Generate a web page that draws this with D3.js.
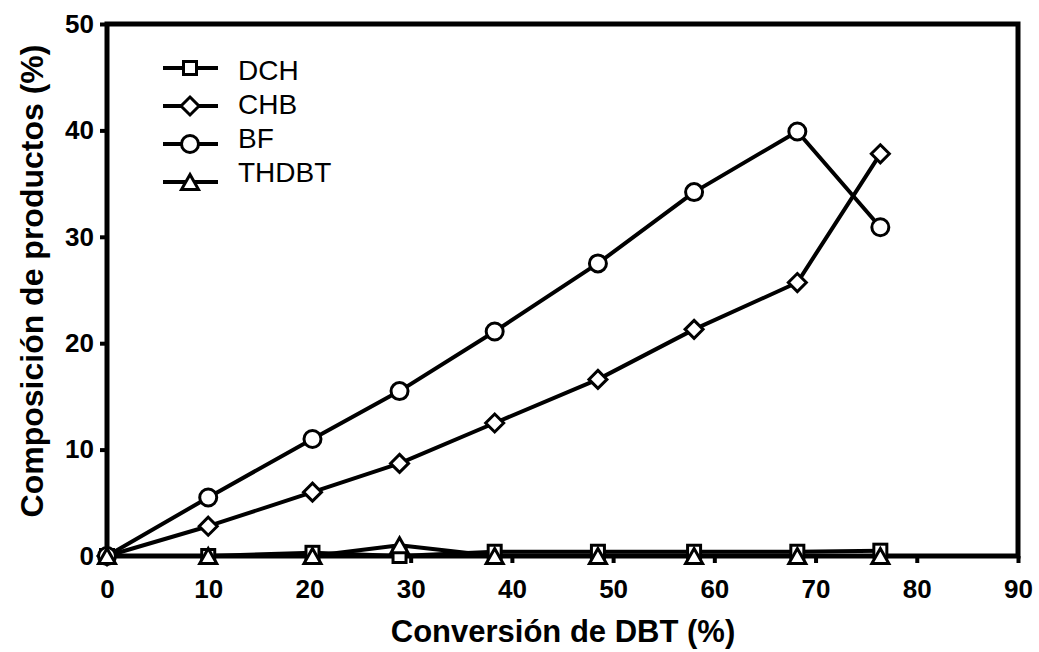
<!DOCTYPE html>
<html>
<head>
<meta charset="utf-8">
<script src="https://cdn.jsdelivr.net/npm/d3@7"></script>
<style>
  html, body { margin: 0; padding: 0; background: #fff; }
  svg { display: block; }
  text { font-family: "Liberation Sans", Arial, sans-serif; fill: #000; }
</style>
</head>
<body>
<svg id="chart" width="1039" height="652"></svg>
<script>
// DBT conversion (%) at each sample
const conversion = [0, 10, 20.3, 28.9, 38.3, 48.5, 58.0, 68.2, 76.4];

// Product composition (%) for each product
const dch   = [0, 0, 0.3, 0, 0.4, 0.4, 0.4, 0.4, 0.5];
const chb   = [0, 2.8, 6.0, 8.7, 12.5, 16.6, 21.3, 25.7, 37.8];
const bf    = [0, 5.5, 11.0, 15.5, 21.1, 27.5, 34.2, 39.9, 30.9];
const thdbt = [0, 0, 0, 1.0, 0, 0, 0, 0, 0];

const seriesNames = ["DCH", "CHB", "BF", "THDBT"];
const seriesValues = [dch, chb, bf, thdbt];
const seriesMarkers = ["square", "diamond", "circle", "triangle"];

const xTicks = [0, 10, 20, 30, 40, 50, 60, 70, 80, 90];
const yTicks = [0, 10, 20, 30, 40, 50];

const xTitle = "Conversión de DBT (%)";
const yTitle = "Composición de productos (%)";

const svg = d3.select("#chart");
const plotLeft = 107, plotRight = 1018, plotTop = 24, plotBottom = 556;

const x = d3.scaleLinear().domain([0, 90]).range([plotLeft, plotRight]);
const y = d3.scaleLinear().domain([0, 50]).range([plotBottom, plotTop]);

// Axes with outward ticks
const xAxis = svg.append("g").attr("transform", `translate(0,${plotBottom})`)
  .call(d3.axisBottom(x).tickValues(xTicks).tickSize(7).tickPadding(17).tickFormat(d3.format("d")));
const yAxis = svg.append("g").attr("transform", `translate(${plotLeft},0)`)
  .call(d3.axisLeft(y).tickValues(yTicks).tickSize(7).tickPadding(6).tickFormat(d3.format("d")));

[xAxis, yAxis].forEach(g => {
  g.select(".domain").remove();
  g.selectAll(".tick line").attr("stroke", "#000").attr("stroke-width", 4);
  g.selectAll(".tick text")
    .attr("font-family", "'Liberation Sans', Arial, sans-serif")
    .attr("font-size", 26).attr("font-weight", "bold").attr("fill", "#000");
});

// Plot frame
svg.append("rect")
  .attr("x", plotLeft).attr("y", plotTop)
  .attr("width", plotRight - plotLeft).attr("height", plotBottom - plotTop)
  .attr("fill", "none").attr("stroke", "#000").attr("stroke-width", 5);

// Marker shapes (white fill, black outline)
function drawMarker(g, type, cx, cy) {
  const sw = 3;
  if (type === "square") {
    const s = 13;
    g.append("rect").attr("x", cx - s / 2).attr("y", cy - s / 2).attr("width", s).attr("height", s)
      .attr("fill", "#fff").attr("stroke", "#000").attr("stroke-width", sw);
  } else if (type === "diamond") {
    const r = 9;
    g.append("path").attr("d", `M${cx},${cy - r}L${cx + r},${cy}L${cx},${cy + r}L${cx - r},${cy}Z`)
      .attr("fill", "#fff").attr("stroke", "#000").attr("stroke-width", sw);
  } else if (type === "circle") {
    g.append("circle").attr("cx", cx).attr("cy", cy).attr("r", 8.5)
      .attr("fill", "#fff").attr("stroke", "#000").attr("stroke-width", sw);
  } else if (type === "triangle") {
    const w = 17, h = 15;
    g.append("path").attr("d", `M${cx},${cy - h / 2}L${cx + w / 2},${cy + h / 2}L${cx - w / 2},${cy + h / 2}Z`)
      .attr("fill", "#fff").attr("stroke", "#000").attr("stroke-width", sw).attr("stroke-linejoin", "miter");
  }
}

const line = d3.line().x(d => x(d[0])).y(d => y(d[1]));
const linesG = svg.append("g");
const marksG = svg.append("g");

seriesValues.forEach((vals, i) => {
  const pts = conversion.map((c, j) => [c, vals[j]]);
  linesG.append("path").datum(pts).attr("d", line)
    .attr("fill", "none").attr("stroke", "#000").attr("stroke-width", 4).attr("stroke-linejoin", "round");
});
seriesValues.forEach((vals, i) => {
  conversion.forEach((c, j) => drawMarker(marksG, seriesMarkers[i], x(c), y(vals[j])));
});

// Legend: symbol rows and label rows are spaced slightly differently
const legend = svg.append("g");
seriesNames.forEach((name, i) => {
  const ly = 68 + i * 38;
  const ty = 70 + i * 34;
  legend.append("line").attr("x1", 163).attr("x2", 218).attr("y1", ly).attr("y2", ly)
    .attr("stroke", "#000").attr("stroke-width", 4);
  drawMarker(legend, seriesMarkers[i], 190, ly);
  legend.append("text").attr("x", 238).attr("y", ty).attr("dy", "0.36em")
    .attr("font-size", 28).text(name);
});

// Axis titles
svg.append("text").attr("x", 563).attr("y", 642)
  .attr("text-anchor", "middle").attr("font-size", 31).attr("font-weight", "bold").text(xTitle);
svg.append("text").attr("transform", `translate(43,281) rotate(-90)`)
  .attr("text-anchor", "middle").attr("font-size", 32).attr("font-weight", "bold").text(yTitle);
</script>
</body>
</html>
